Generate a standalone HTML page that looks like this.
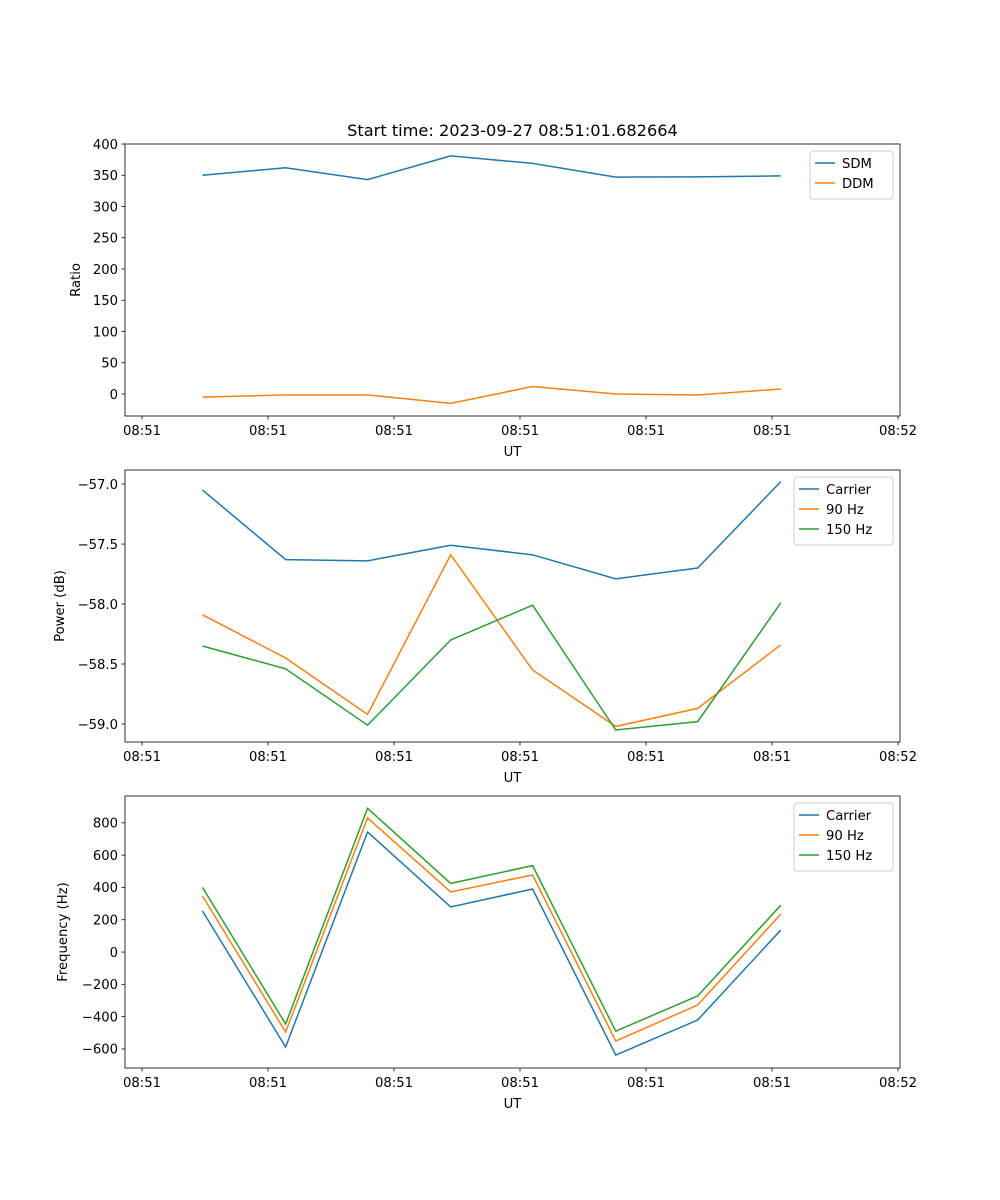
<!DOCTYPE html>
<html><head><meta charset="utf-8"><style>
body{margin:0;background:#fff;}
svg{display:block;font-family:"DejaVu Sans","Liberation Sans",sans-serif;}
</style></head><body>
<svg id="fig" width="1000" height="1200" viewBox="0 0 1000 1200" xmlns="http://www.w3.org/2000/svg">
<rect width="1000" height="1200" fill="#fff"/>
<text x="512.5" y="136" text-anchor="middle" font-size="16.2">Start time: 2023-09-27 08:51:01.682664</text>
</svg>
<script>
const times = [4.8, 11.4, 17.9, 24.5, 31.0, 37.6, 44.1, 50.7];
const xTicks = [0, 10, 20, 30, 40, 50, 60];
const xTickLabels = ["08:51","08:51","08:51","08:51","08:51","08:51","08:52"];
const sdm = [350, 362, 343, 381, 369, 347, 347.5, 349];
const ddm = [-5, -1.5, -1.5, -15, 12, 0, -1.5, 8];
const powCarrier = [-57.05, -57.63, -57.64, -57.51, -57.59, -57.79, -57.70, -56.98];
const pow90 = [-58.09, -58.45, -58.92, -57.59, -58.55, -59.02, -58.87, -58.34];
const pow150 = [-58.35, -58.54, -59.01, -58.30, -58.01, -59.05, -58.98, -57.99];
const freqCarrier = [254, -588, 743, 279, 390, -638, -421, 136];
const freq90 = [347, -495, 830, 372, 477, -551, -328, 235];
const freq150 = [400, -446, 890, 425, 535, -490, -272, 290];
const ticks1 = [0, 50, 100, 150, 200, 250, 300, 350, 400];
const ticks2 = [-59.0, -58.5, -58.0, -57.5, -57.0];
const ticks3 = [-600, -400, -200, 0, 200, 400, 600, 800];

const NS = "http://www.w3.org/2000/svg";
const svg = document.getElementById("fig");
const L = 125, R = 900, XMIN = -1.35, XMAX = 60.16;
const FS = 13.2;
function xs(t){ return L + (t - XMIN) / (XMAX - XMIN) * (R - L); }
function mk(tag, attrs, parent){ const e = document.createElementNS(NS, tag); for (const k in attrs) e.setAttribute(k, attrs[k]); (parent||svg).appendChild(e); return e; }
const C = ["#1f77b4", "#ff7f0e", "#2ca02c"];

function panel(id, top, bot, ymin, ymax, yticks, fmt, ylabel, series, names, legendW){
  const g = mk("g", {});
  
  
  const ys = v => bot - (v - ymin) / (ymax - ymin) * (bot - top);
  series.forEach((s, i) => {
    const p = mk("polyline", {points: s.map((v, j) => xs(times[j]) + "," + ys(v)).join(" "), fill: "none", stroke: C[i], "stroke-width": 1.5}, g);
    
    
  });
  const fr = mk("rect", {x: L, y: top, width: R - L, height: bot - top, fill: "none", stroke: "#000", "stroke-width": 0.8}, g);
  
  
  xTicks.forEach((t, i) => {
    const x = xs(t);
    mk("line", {x1: x, x2: x, y1: bot, y2: bot + 3.5, stroke: "#000", "stroke-width": 0.8}, g);
    const tx = mk("text", {x: x, y: bot + 19, "text-anchor": "middle", "font-size": FS}, g);
    tx.textContent = xTickLabels[i];
    
    
  });
  const xl = mk("text", {x: 512.5, y: bot + 40, "text-anchor": "middle", "font-size": FS}, g);
  xl.textContent = "UT";
  
  
  yticks.forEach(v => {
    const y = ys(v);
    mk("line", {x1: L - 3.5, x2: L, y1: y, y2: y, stroke: "#000", "stroke-width": 0.8}, g);
    const tx = mk("text", {x: L - 7, y: y + 4.8, "text-anchor": "end", "font-size": FS}, g);
    tx.textContent = fmt(v);
    
    
  });
  const yl = mk("text", {x: 0, y: 0, "text-anchor": "middle", "font-size": FS, transform: "translate(" + ylabel[1] + "," + (top + bot) / 2 + ") rotate(-90)"}, g);
  yl.textContent = ylabel[0];
  
  
  const lx = R - 7 - legendW, ly = top + 7;
  const lg = mk("g", {}, g);
  
  
  mk("rect", {x: lx, y: ly, width: legendW, height: 8 + names.length * 20, rx: 3, fill: "#fff", stroke: "#ccc", "stroke-width": 1}, lg);
  names.forEach((n, i) => {
    const yy = ly + 12 + i * 20;
    mk("line", {x1: lx + 5, x2: lx + 25, y1: yy, y2: yy, stroke: C[i], "stroke-width": 1.5}, lg);
    const t = mk("text", {x: lx + 32, y: yy + 4.8, "font-size": FS}, lg);
    t.textContent = n;
    
    
  });
}
panel("ratio-panel", 144, 416, -35.2, 400, ticks1, v => String(v), ["Ratio", 80], [sdm, ddm], ["SDM", "DDM"], 83);
panel("power-panel", 470, 742, -59.15, -56.883, ticks2, v => (v < 0 ? "\u2212" : "") + Math.abs(v).toFixed(1), ["Power (dB)", 64], [powCarrier, pow90, pow150], ["Carrier", "90 Hz", "150 Hz"], 99);
panel("frequency-panel", 796, 1068, -718, 966, ticks3, v => (v < 0 ? "\u2212" : "") + Math.abs(v), ["Frequency (Hz)", 67], [freqCarrier, freq90, freq150], ["Carrier", "90 Hz", "150 Hz"], 99);
</script>
</body></html>
